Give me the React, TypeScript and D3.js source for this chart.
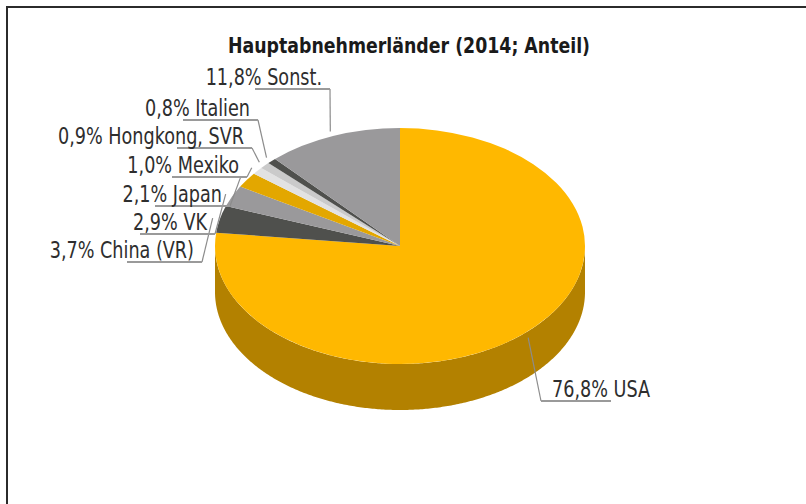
import React from "react";
import * as d3 from "d3";

// ---- data ----
const categories = ["USA", "China (VR)", "VK", "Japan", "Mexiko", "Hongkong, SVR", "Italien", "Sonst."];
const shares = [76.8, 3.7, 2.9, 2.1, 1.0, 0.9, 0.8, 11.8];
const sliceColors = ["#FFB800", "#4F504D", "#9A999B", "#E3A700", "#E2E2E2", "#CACACA", "#4F504D", "#9A999B"];
const titleText = "Hauptabnehmerländer (2014; Anteil)";

// ---- layout (label elbow x, underline y) ----
const labelElbowX = [541, 202, 215, 230, 247, 252, 258, 330];
const labelLineY = [401, 262, 234, 206, 177, 148, 120, 89];

const W = 806;
const H = 504;
const cx = 400;
const cy = 246;
const rx = 185;
const ry = 118;
const depth = 46;
const FONT = "'DejaVu Sans Condensed', 'DejaVu Sans', sans-serif";
const STRETCH = 1.14;

export default function App() {
  const pieGen = d3.pie<number>().sort(null).value((d) => d).startAngle(0).endAngle(2 * Math.PI);
  const arcs = pieGen(shares);
  const arcGen = d3.arc<d3.PieArcDatum<number>>().innerRadius(0).outerRadius(rx);
  const k = ry / rx;
  const pt = (a: number, r = 1, dy = 0): [number, number] => [
    cx + rx * r * Math.sin(a),
    cy - ry * r * Math.cos(a) + dy,
  ];
  const line = d3.line();
  const fmt = d3.format(".1f");

  const sides = arcs
    .map((a, i) => {
      const a0 = Math.max(a.startAngle, Math.PI / 2);
      const a1 = Math.min(a.endAngle, (3 * Math.PI) / 2);
      if (a1 <= a0) return null;
      const angles = d3.range(a0, a1, 0.01).concat([a1]);
      const top = angles.map((t) => pt(t));
      const bottom = angles.slice().reverse().map((t) => pt(t, 1, depth));
      const c = d3.color(sliceColors[i])!.darker(1).formatHex();
      return { d: line(top.concat(bottom))! + "Z", c, key: i };
    })
    .filter(Boolean) as { d: string; c: string; key: number }[];

  const labels = arcs.map((a, i) => {
    const mid = (a.startAngle + a.endAngle) / 2;
    const isRight = Math.sin(mid) > 0;
    const anchor = pt(mid, 1.04);
    const ex = labelElbowX[i];
    const ly = labelLineY[i];
    const text = `${fmt(shares[i]).replace(".", ",")}% ${categories[i]}`;
    return { anchor, ex, ly, text, isRight, i };
  });

  return (
    <svg
      width={W}
      height={H}
      style={{ position: "absolute", left: 0, top: 0, background: "#fff" }}
    >
      <rect x={0} y={0} width={W} height={H} fill="#fff" />
      <path d={`M7,${H} V7 H${W}`} fill="none" stroke="#2b2b2b" strokeWidth={2} />

      <text
        transform={`translate(409,53) scale(1,${STRETCH})`}
        textAnchor="middle"
        fontFamily={FONT}
        fontWeight="bold"
        fontSize={19.3}
        fill="#1a1a1a"
      >
        {titleText}
      </text>

      {sides.map((s) => (
        <path key={"s" + s.key} d={s.d} fill={s.c} />
      ))}

      <g transform={`translate(${cx},${cy}) scale(1,${k})`}>
        {arcs.map((a, i) => (
          <path key={"t" + i} d={arcGen(a)!} fill={sliceColors[i]} />
        ))}
      </g>

      {labels.map((l) => (
        <g key={"l" + l.i}>
          <path
            d={line([l.anchor, [l.ex, l.ly]])!}
            fill="none"
            stroke="#8c8c8c"
            strokeWidth={1.2}
          />
          <path
            d={line([
              [l.ex, l.ly],
              [l.isRight ? l.ex + 70 : l.ex - 75, l.ly],
            ])!}
            fill="none"
            stroke="#9a9a9a"
            strokeWidth={2}
          />
          <text
            transform={`translate(${l.isRight ? l.ex + 11 : l.ex - 8},${l.ly - 4}) scale(1,${STRETCH})`}
            textAnchor={l.isRight ? "start" : "end"}
            fontFamily={FONT}
            fontSize={19.6}
            fill="#2e2e2e"
          >
            {l.text}
          </text>
        </g>
      ))}
    </svg>
  );
}
